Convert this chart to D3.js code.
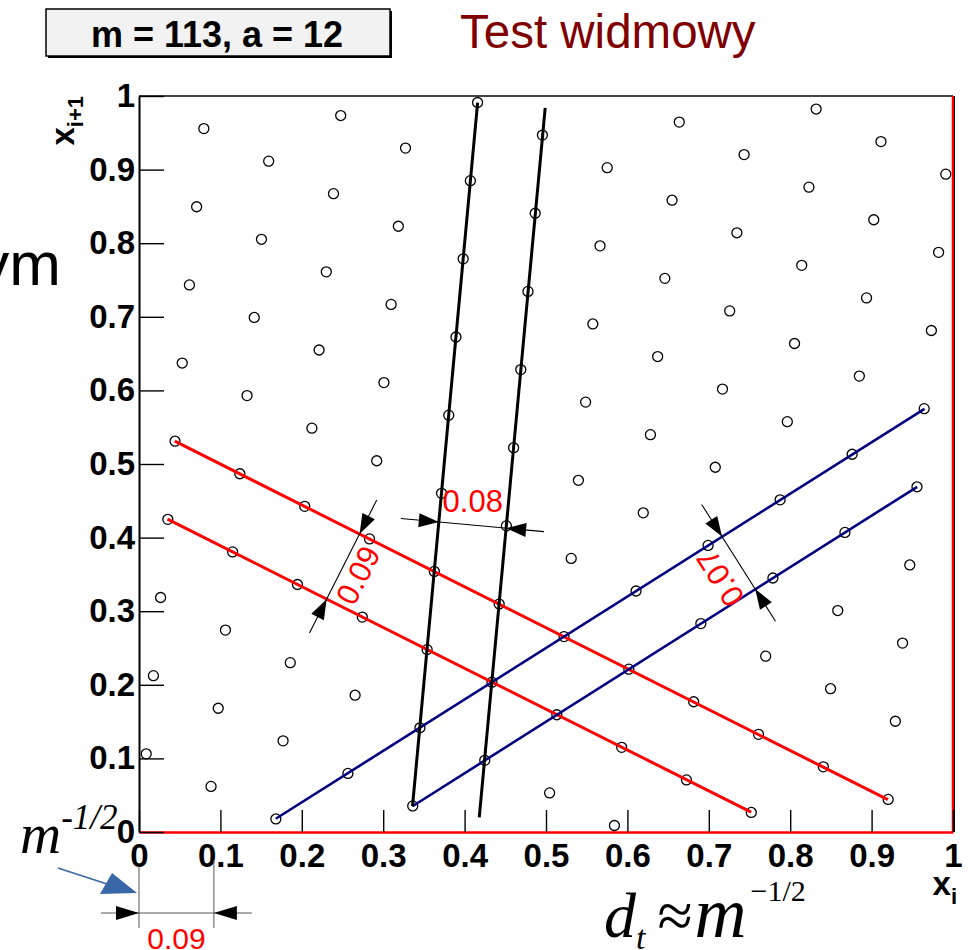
<!DOCTYPE html>
<html><head><meta charset="utf-8">
<script src="https://cdn.jsdelivr.net/npm/d3@7"></script>
<style>body{margin:0;background:#fff}svg{display:block}</style>
</head><body>
<script>
// ---- data ----
const modulus = 113;
const multiplier = 12;
const seedValues = [1,2,3,4,5,6,7,8,9,10,11,12,13,14,15,16,17,18,19,20,21,22,23,24,25,26,27,28,29,30,31,32,33,34,35,36,37,38,39,40,41,42,43,44,45,46,47,48,49,50,51,52,53,54,55,56,57,58,59,60,61,62,63,64,65,66,67,68,69,70,71,72,73,74,75,76,77,78,79,80,81,82,83,84,85,86,87,88,89,90,91,92,93,94,95,96,97,98,99,100,101,102,103,104,105,106,107,108,109,110,111,112];
const nextValues = [12,24,36,48,60,72,84,96,108,7,19,31,43,55,67,79,91,103,2,14,26,38,50,62,74,86,98,110,9,21,33,45,57,69,81,93,105,4,16,28,40,52,64,76,88,100,112,11,23,35,47,59,71,83,95,107,6,18,30,42,54,66,78,90,102,1,13,25,37,49,61,73,85,97,109,8,20,32,44,56,68,80,92,104,3,15,27,39,51,63,75,87,99,111,10,22,34,46,58,70,82,94,106,5,17,29,41,53,65,77,89,101];
const redLines = [[[0.044,0.531],[0.920,0.044]], [[0.035,0.425],[0.752,0.027]]];
const blueLines = [[[0.168,0.018],[0.965,0.575]], [[0.336,0.035],[0.956,0.469]]];
const blackLines = [[[0.336,0.035],[0.416,0.991]], [[0.418,0.020],[0.499,0.984]]];
const dimensions = [
  {label:"0.09", tips:[[0.2710,0.4050],[0.2305,0.3164]], at:[0.269,0.349]},
  {label:"0.08", tips:[[0.3683,0.4212],[0.4510,0.4128]], at:[0.410,0.450]},
  {label:"0.07", tips:[[0.7162,0.4014],[0.7570,0.3300]], at:[0.714,0.345]}
];
const majorTicks = [0,0.1,0.2,0.3,0.4,0.5,0.6,0.7,0.8,0.9,1];
const tickLabels = ["0","0.1","0.2","0.3","0.4","0.5","0.6","0.7","0.8","0.9","1"];
const minorTicks = [0.02,0.04,0.06,0.08,0.12,0.14,0.16,0.18,0.22,0.24,0.26,0.28,0.32,0.34,0.36,0.38,0.42,0.44,0.46,0.48,0.52,0.54,0.56,0.58,0.62,0.64,0.66,0.68,0.72,0.74,0.76,0.78,0.82,0.84,0.86,0.88,0.92,0.94,0.96,0.98];
const spacingLabel = "0.09";
const spacingValue = 0.092;

// ---- layout ----
const W = 973, H = 950;
const svg = d3.select("body").append("svg").attr("width", W).attr("height", H);
const x = d3.scaleLinear([0,1],[139,953]);
const y = d3.scaleLinear([0,1],[832,96]);
const SANS = "'Liberation Sans', Arial, Helvetica, sans-serif";
const SERIF = "'Liberation Serif', 'Times New Roman', serif";

// header box
svg.append("rect").attr("x",48).attr("y",11).attr("width",344).attr("height",47).attr("fill","#000");
svg.append("rect").attr("x",46).attr("y",9).attr("width",344).attr("height",47)
  .attr("fill","#f2f2f2").attr("stroke","#000").attr("stroke-width",1.5);
svg.append("text").attr("x",217).attr("y",47).attr("text-anchor","middle")
  .attr("font-family",SANS).attr("font-weight","bold").attr("font-size",36)
  .text(`m = ${modulus}, a = ${multiplier}`);
svg.append("text").attr("x",460).attr("y",48).attr("font-family",SANS)
  .attr("font-size",47.5).attr("fill","#800000").text("Test widmowy");
svg.append("text").attr("x",61).attr("y",285).attr("text-anchor","end").attr("font-family",SANS)
  .attr("font-size",62).attr("fill","#000").text("ym");

// frame
svg.append("line").attr("x1",x(0)).attr("x2",x(1)).attr("y1",y(1)).attr("y2",y(1)).attr("stroke","#444").attr("stroke-width",2);
svg.append("line").attr("x1",x(1)).attr("x2",x(1)).attr("y1",y(1)).attr("y2",y(0)).attr("stroke","#ff0000").attr("stroke-width",2.5);
svg.append("line").attr("x1",x(1)+1.5).attr("x2",x(1)+1.5).attr("y1",y(1)).attr("y2",y(0)).attr("stroke","#000").attr("stroke-width",1);

// axes
const gx = svg.append("g").attr("transform",`translate(0,${y(0)})`);
gx.call(d3.axisBottom(x).tickValues(minorTicks).tickSize(-11).tickSizeOuter(0).tickFormat(""));
gx.call(d3.axisBottom(x).tickValues(majorTicks).tickSize(-22).tickSizeOuter(0).tickPadding(12)
  .tickFormat((d,i)=>tickLabels[i]));
gx.selectAll(".domain").attr("stroke","#ff0000").attr("stroke-width",2.5);
gx.selectAll(".tick line").attr("stroke","#000").attr("stroke-width",1.4);
gx.selectAll(".tick text").attr("font-family",SANS).attr("font-weight","bold").attr("font-size",33).attr("fill","#000");

const gy = svg.append("g").attr("transform",`translate(${x(0)},0)`);
gy.call(d3.axisLeft(y).tickValues(minorTicks).tickSize(-13).tickSizeOuter(0).tickFormat(""));
gy.call(d3.axisLeft(y).tickValues(majorTicks).tickSize(-25).tickSizeOuter(0).tickPadding(4)
  .tickFormat((d,i)=>tickLabels[i]));
gy.selectAll(".domain").attr("stroke","#000").attr("stroke-width",2);
gy.selectAll(".tick line").attr("stroke","#000").attr("stroke-width",1.4);
gy.selectAll(".tick text").attr("font-family",SANS).attr("font-weight","bold").attr("font-size",33).attr("fill","#000");

// axis titles
const yt = svg.append("text").attr("transform",`translate(74,${y(1)}) rotate(-90)`).attr("text-anchor","end")
  .attr("font-family",SANS).attr("font-weight","bold").attr("font-size",33);
yt.append("tspan").text("x");
yt.append("tspan").attr("dy",9).attr("font-size",22).text("i+1");
const xt = svg.append("text").attr("x",957).attr("y",895).attr("text-anchor","end")
  .attr("font-family",SANS).attr("font-weight","bold").attr("font-size",33);
xt.append("tspan").text("x");
xt.append("tspan").attr("dy",9).attr("font-size",22).text("i");

// points
const pts = seedValues.map((s,i)=>[s/modulus, nextValues[i]/modulus]);
svg.append("g").selectAll("circle").data(pts).join("circle")
  .attr("cx",d=>x(d[0])).attr("cy",d=>y(d[1])).attr("r",5)
  .attr("fill","none").attr("stroke","#000").attr("stroke-width",1.3);

// lattice lines
const line = d3.line().x(d=>x(d[0])).y(d=>y(d[1]));
function drawLines(data,color,w){
  svg.append("g").selectAll("path").data(data).join("path").attr("d",line)
    .attr("fill","none").attr("stroke",color).attr("stroke-width",w);
}
drawLines(redLines,"#ff0000",3);
drawLines(blueLines,"#000080",2.6);
drawLines(blackLines,"#000",3);

// dimension annotations
function arrowHead(g, tip, dir, L, Wd, color){
  const px=-dir[1], py=dir[0];
  const p = [tip, [tip[0]-L*dir[0]+Wd*px, tip[1]-L*dir[1]+Wd*py], [tip[0]-L*dir[0]-Wd*px, tip[1]-L*dir[1]-Wd*py]];
  g.append("path").attr("d","M"+p.map(q=>q.join(",")).join("L")+"Z").attr("fill",color);
}
const ag = svg.append("g");
dimensions.forEach(dm=>{
  const a=[x(dm.tips[0][0]),y(dm.tips[0][1])], b=[x(dm.tips[1][0]),y(dm.tips[1][1])];
  const len=Math.hypot(b[0]-a[0],b[1]-a[1]); const u=[(b[0]-a[0])/len,(b[1]-a[1])/len];
  const ext=38;
  ag.append("line").attr("x1",a[0]-ext*u[0]).attr("y1",a[1]-ext*u[1]).attr("x2",b[0]+ext*u[0]).attr("y2",b[1]+ext*u[1])
    .attr("stroke","#000").attr("stroke-width",1.1);
  arrowHead(ag,a,u,20,7,"#000");
  arrowHead(ag,b,[-u[0],-u[1]],20,7,"#000");
  let ang = Math.atan2(u[1],u[0])*180/Math.PI;
  if (Math.abs(ang) > 10) ang -= 180; else ang = 0;
  ag.append("text").attr("transform",`translate(${x(dm.at[0])},${y(dm.at[1])}) rotate(${ang})`)
    .attr("text-anchor","middle").attr("dy","0.35em").attr("font-family",SANS).attr("font-size",31)
    .attr("fill","#ff0000").text(dm.label);
});

// bottom-left spacing annotation
const bx0=x(0), bx1=x(spacingValue);
ag.append("line").attr("x1",bx0).attr("x2",bx0).attr("y1",866).attr("y2",928).attr("stroke","#555").attr("stroke-width",1);
ag.append("line").attr("x1",bx1).attr("x2",bx1).attr("y1",860).attr("y2",928).attr("stroke","#555").attr("stroke-width",1);
ag.append("line").attr("x1",bx0-38).attr("x2",bx1+38).attr("y1",913).attr("y2",913).attr("stroke","#555").attr("stroke-width",1);
arrowHead(ag,[bx0,913],[1,0],23,7,"#000");
arrowHead(ag,[bx1,913],[-1,0],23,7,"#000");
ag.append("text").attr("x",(bx0+bx1)/2).attr("y",949).attr("text-anchor","middle").attr("font-family",SANS)
  .attr("font-size",30).attr("fill","#ff0000").text(spacingLabel);
// blue pointer arrow
ag.append("line").attr("x1",58).attr("y1",868).attr("x2",110).attr("y2",885).attr("stroke","#3a67a8").attr("stroke-width",1.5);
ag.append("path").attr("d","M137,893L100,894L112,873Z").attr("fill","#3a67a8");

// formulas
const m1 = svg.append("text").attr("x",20).attr("y",853).attr("font-family",SERIF).attr("font-style","italic").attr("font-size",57);
m1.append("tspan").text("m");
m1.append("tspan").attr("dy",-24).attr("font-size",35).text("-1/2");
const f = svg.append("text").attr("x",604).attr("y",937).attr("font-family",SERIF).attr("font-size",64);
f.append("tspan").attr("font-style","italic").text("d");
f.append("tspan").attr("font-style","italic").attr("dy",12).attr("font-size",34).text("t");
f.append("tspan").attr("dy",-12).attr("dx",12).text("\u2248");
f.append("tspan").attr("font-style","italic").attr("dx",2).attr("font-size",72).text("m");
f.append("tspan").attr("dy",-36).attr("dx",4).attr("font-size",30).text("\u22121/2");
</script>
</body></html>
